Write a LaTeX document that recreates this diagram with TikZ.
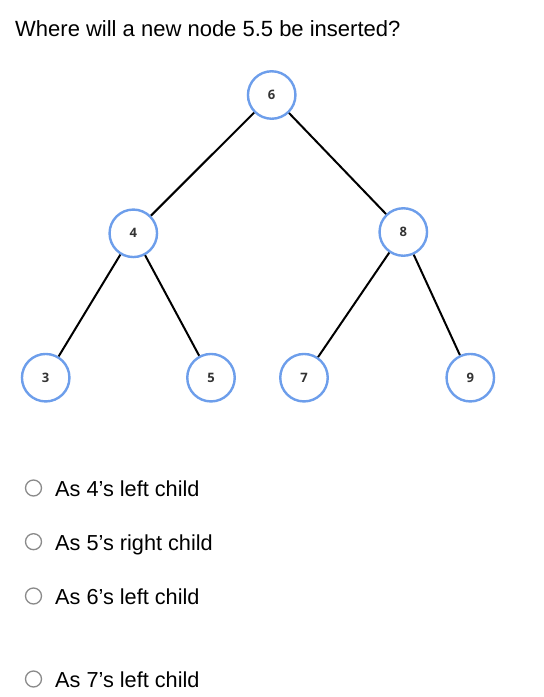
\documentclass[tikz,border=0pt]{standalone}
\usepackage{fontspec}
\setmainfont{Liberation Sans}
\newfontfamily\numfont{Open Sans}
\definecolor{nodeblue}{HTML}{6D9EEB}
\definecolor{numgray}{HTML}{333333}
\definecolor{radiogray}{HTML}{8A8A8A}
\tikzset{
  treenode/.style={circle, draw=nodeblue, line width=2.4pt, fill=white, minimum size=47.5pt, inner sep=0pt,
    font=\numfont\bfseries\fontsize{13}{15}\selectfont, text=numgray},
  edge/.style={line width=2pt, black},
  radio/.style={circle, draw=radiogray, line width=1.3pt, minimum size=16pt, inner sep=0pt},
  qtext/.style={anchor=base west, inner sep=0pt, font=\fontsize{21.7}{24}\selectfont, text=black},
}
\begin{document}
\begin{tikzpicture}[x=1pt,y=-1pt]
\useasboundingbox (0,0) rectangle (544,697);
\node[qtext, font=\fontsize{22}{24}\selectfont] (title) at (15,36) {Where will a new node 5.5 be inserted?};
\node[treenode] (n6) at (271.7,95) {6};
\node[treenode] (n4) at (133.3,233.3) {4};
\node[treenode] (n8) at (403.3,232) {8};
\node[treenode] (n3) at (45.7,377.7) {3};
\node[treenode] (n5) at (211,377.7) {5};
\node[treenode] (n7) at (304,377.7) {7};
\node[treenode] (n9) at (470.3,377.7) {9};
\draw[edge] (n6) -- (n4);
\draw[edge] (n6) -- (n8);
\draw[edge] (n4) -- (n3);
\draw[edge] (n4) -- (n5);
\draw[edge] (n8) -- (n7);
\draw[edge] (n8) -- (n9);
\node[radio] (r1) at (33.5,488) {};
\node[qtext] (o1) at (55,496) {As 4’s left child};
\node[radio] (r2) at (33.5,541.7) {};
\node[qtext] (o2) at (55,550) {As 5’s right child};
\node[radio] (r3) at (33.5,596) {};
\node[qtext] (o3) at (55,604) {As 6’s left child};
\node[radio] (r4) at (33.5,679) {};
\node[qtext] (o4) at (55,687) {As 7’s left child};
\end{tikzpicture}
\end{document}
